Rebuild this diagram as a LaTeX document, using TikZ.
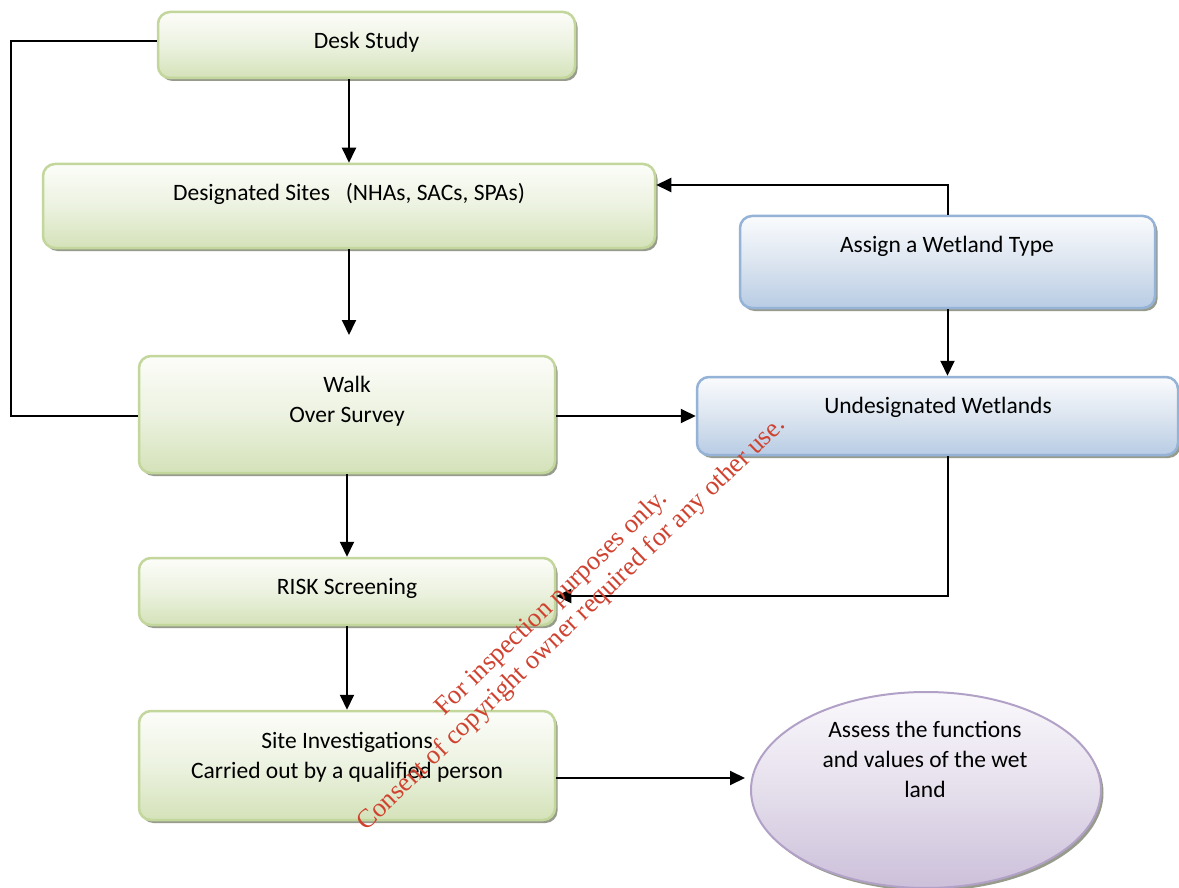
\documentclass[tikz,border=0pt]{standalone}
\usepackage{fontspec}
\setmainfont{Carlito}
\newfontfamily\wmfont{Liberation Serif}
\usetikzlibrary{shapes.geometric,shadows,arrows.meta}
\definecolor{gborder}{RGB}{195,214,155}
\definecolor{gtop}{RGB}{252,253,249}
\definecolor{gmid}{RGB}{236,242,224}
\definecolor{gbot}{RGB}{212,226,185}
\definecolor{bborder}{RGB}{149,179,215}
\definecolor{btop}{RGB}{250,251,253}
\definecolor{bmid}{RGB}{220,229,240}
\definecolor{bbot}{RGB}{184,204,228}
\definecolor{pborder}{RGB}{178,161,199}
\definecolor{ptop}{RGB}{250,248,252}
\definecolor{pmid}{RGB}{229,223,236}
\definecolor{pbot}{RGB}{204,192,218}
\definecolor{wmred}{RGB}{208,66,48}
\definecolor{shadowc}{RGB}{150,155,140}
\tikzset{
  gbox/.style={draw=gborder, line width=2.5pt, rounded corners=12pt,
    top color=gtop, bottom color=gbot, middle color=gmid,
    drop shadow={shadow xshift=2.5pt, shadow yshift=-3pt, fill=shadowc, opacity=1},
    inner sep=0pt},
  bbox/.style={draw=bborder, line width=2.5pt, rounded corners=12pt,
    top color=btop, bottom color=bbot, middle color=bmid,
    drop shadow={shadow xshift=2.5pt, shadow yshift=-3pt, fill=shadowc, opacity=1},
    inner sep=0pt},
  pell/.style={ellipse, draw=pborder, line width=2pt,
    top color=ptop, bottom color=pbot, middle color=pmid,
    drop shadow={shadow xshift=2.5pt, shadow yshift=-3pt, fill=shadowc, opacity=1},
    inner sep=0pt},
  txt/.style={font=\fontsize{23.5}{30}\selectfont, align=center, inner sep=0pt},
  conn/.style={line width=2pt, black},
  arr/.style={conn, -{Triangle[length=15pt,width=14pt]}},
}
\begin{document}
\begin{tikzpicture}[x=1pt,y=-1pt]
\useasboundingbox (0,0) rectangle (1179,888);
\fill[white] (0,0) rectangle (1179,888);

% boxes
\node[gbox, minimum width=417pt, minimum height=66pt] (desk) at (366.5,45) {};
\node[gbox, minimum width=612pt, minimum height=84pt] (desig) at (349,206) {};
\node[bbox, minimum width=415pt, minimum height=92pt] (assign) at (947.5,262) {};
\node[bbox, minimum width=481pt, minimum height=78pt] (undes) at (937.5,416) {};
\node[gbox, minimum width=416pt, minimum height=117pt] (walk) at (347,414.5) {};
\node[gbox, minimum width=416pt, minimum height=67pt] (risk) at (347,591.5) {};
\node[gbox, minimum width=416pt, minimum height=109pt] (site) at (347,765.5) {};
\node[pell, minimum width=350pt, minimum height=196pt] (assess) at (926,790) {};

% texts
\node[txt] (tdesk) at (366.5,42) {Desk Study};
\node[txt] (tdesig) at (349,194) {Designated Sites\ \ \ (NHAs, SACs, SPAs)};
\node[txt] (tassign) at (947,246) {Assign a Wetland Type};
\node[txt] (tundes) at (938,407) {Undesignated Wetlands};
\node[txt] (twalk) at (347,401.5) {Walk\\Over Survey};
\node[txt] (trisk) at (347,588) {RISK Screening};
\node[txt] (tsite) at (347,757.5) {Site Investigations\\Carried out by a qualified person};
\node[txt] (tassess) at (925,759) {Assess the functions\\and values of the wet\\land};

% connectors
\coordinate (leftc) at (11,41);
\draw[conn] ([yshift=4pt]desk.west) -- (leftc) |- ([yshift=-1.5pt]walk.west);
\draw[arr] (desig.north |- desk.south) -- (desig.north);
\coordinate (gap) at (349,335);
\draw[arr] (desig.south) -- (gap);
\draw[arr] (walk.south) -- (risk.north);
\draw[arr] (risk.south) -- (site.north);
\draw[arr] ([yshift=-1.5pt]walk.east) -- ([yshift=-1.5pt]walk.east -| undes.west);
\draw[arr] (assign.north) |- ([yshift=21pt]desig.east);
\draw[arr] (assign.south) -- (assign.south |- undes.north);
\draw[arr] ([xshift=10.5pt]undes.south) |- ([yshift=-4.5pt]risk.east);
\coordinate (aend) at (745,778);
\draw[arr] ([yshift=-12.5pt]site.east) -- (aend);

% watermark
\node[rotate=44, text=wmred, font=\wmfont\fontsize{26.5}{29}\selectfont, align=center, inner sep=0pt] (wm) at (562,614)
  {For inspection purposes only.\\Consent of copyright owner required for any other use.};
\end{tikzpicture}
\end{document}
